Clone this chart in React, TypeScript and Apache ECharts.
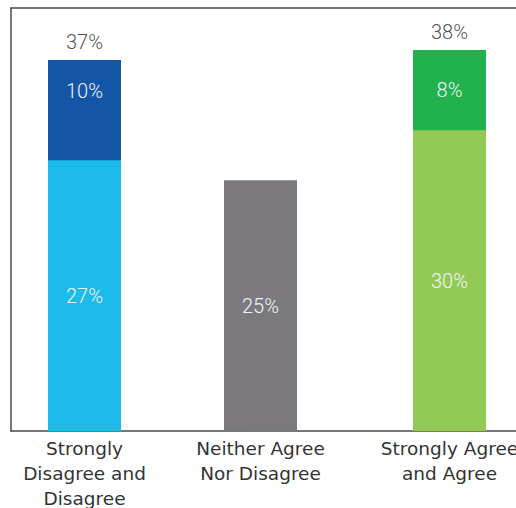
import React, { useEffect, useRef } from "react";
import * as echarts from "echarts";

const categories = ["Strongly\nDisagree and\nDisagree", "Neither Agree\nNor Disagree", "Strongly Agree\nand Agree"];
const categoryPositions = [73.5, 249.5, 438.5];
const baseValues = [27, 25, 30];
const strongValues: (number | null)[] = [10, null, 8];
const totals: (number | null)[] = [37, null, 38];
const baseColors = ["#1dbbe9", "#7b797e", "#93c955"];
const strongColors = ["#1356a6", "#7b797e", "#22b14c"];
const strongLabelDistance = [21, 0, 30];

export default function App() {
  const ref = useRef<HTMLDivElement>(null);
  useEffect(() => {
    if (!ref.current) return;
    const chart = echarts.init(ref.current, undefined, { renderer: "svg" });
    const numFont = "Roboto, 'Noto Sans', sans-serif";
    const catFont = "'DejaVu Sans', sans-serif";
    const lineStyle = { color: "#4a4a4a", width: 1.5 };
    chart.setOption({
      animation: false,
      grid: { left: 11, top: 8, bottom: 77, right: 0, containLabel: false, outerBoundsMode: "none" },
      xAxis: [
        {
          type: "value",
          min: 0,
          max: 505,
          axisLine: { show: true, lineStyle },
          axisTick: { show: false },
          splitLine: { show: false },
          axisLabel: {
            customValues: categoryPositions,
            formatter: (v: number) => {
              const i = categoryPositions.indexOf(v);
              return i >= 0 ? categories[i] : "";
            },
            color: "#333333",
            fontFamily: catFont,
            fontSize: 18.5,
            lineHeight: 25,
            margin: 5,
          },
        },
        {
          type: "value",
          position: "top",
          min: 0,
          max: 505,
          axisLine: { show: true, lineStyle },
          axisTick: { show: false },
          splitLine: { show: false },
          axisLabel: { show: false },
        },
      ],
      yAxis: {
        type: "value",
        min: 0,
        max: 42.2,
        axisLine: { show: true, lineStyle },
        axisTick: { show: false },
        axisLabel: { show: false },
        splitLine: { show: false },
      },
      series: [
        {
          type: "bar",
          barWidth: 73,
          barGap: "-100%",
          data: baseValues.map((v, i) => ({
            value: [categoryPositions[i], v + (strongValues[i] ?? 0)],
            itemStyle: { color: strongColors[i] },
            label: { distance: strongLabelDistance[i] },
          })),
          label: {
            show: true,
            position: "insideTop",
            formatter: (p: any) => (strongValues[p.dataIndex] == null ? "" : strongValues[p.dataIndex] + "%"),
            color: "#eef4fb",
            fontFamily: numFont,
            fontWeight: 300,
            fontSize: 20,
          },
        },
        {
          type: "bar",
          barWidth: 73,
          barGap: "-100%",
          data: baseValues.map((v, i) => ({
            value: [categoryPositions[i], v],
            itemStyle: { color: baseColors[i] },
          })),
          label: {
            show: true,
            position: "inside",
            formatter: (p: any) => p.value[1] + "%",
            color: "#eef4fb",
            fontFamily: numFont,
            fontWeight: 300,
            fontSize: 20,
          },
        },
        {
          type: "scatter",
          symbolSize: 0,
          silent: true,
          data: totals
            .map((v, i) => (v == null ? null : [categoryPositions[i], v]))
            .filter((d) => d != null),
          label: {
            show: true,
            position: "top",
            distance: 8,
            formatter: (p: any) => p.value[1] + "%",
            color: "#222222",
            fontFamily: numFont,
            fontWeight: 300,
            fontSize: 20,
          },
        },
      ],
    });
    return () => chart.dispose();
  }, []);
  return (
    <div style={{ position: "absolute", left: 0, top: 0, width: 516, height: 508, overflow: "hidden" }}>
      <div ref={ref} style={{ width: 516, height: 508 }} />
    </div>
  );
}
